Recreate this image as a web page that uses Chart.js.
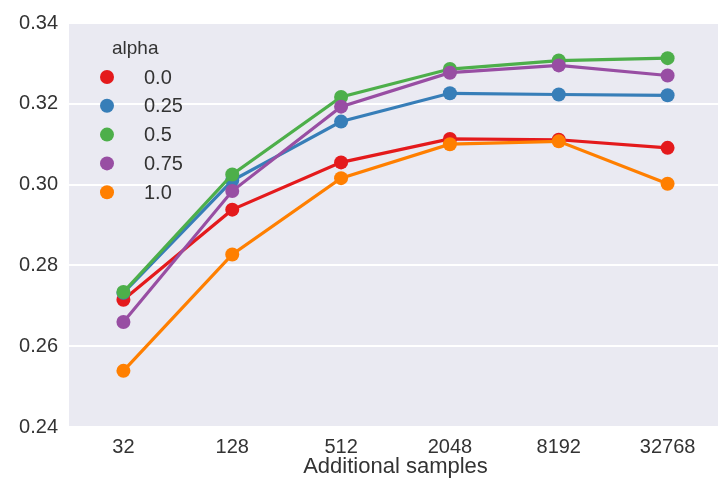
<!DOCTYPE html>
<html>
<head>
<meta charset="utf-8">
<script src="https://cdn.jsdelivr.net/npm/chart.js@4"></script>
<style>
  html, body { margin: 0; padding: 0; background: #ffffff; overflow: hidden; }
  /* the panel runs a few pixels past the right edge of the window */
  #wrap { width: 722px; height: 482px; }
</style>
</head>
<body>
<div id="wrap"><canvas id="chart" width="722" height="482"></canvas></div>
<script>
const samples = ["32", "128", "512", "2048", "8192", "32768"];
const alphaLabels = ["0.0", "0.25", "0.5", "0.75", "1.0"];
const colors = ["#e41a1c", "#377eb8", "#4daf4a", "#984ea3", "#ff7f00"];

const alpha00 = [0.2715, 0.2938, 0.3055, 0.3113, 0.3111, 0.3091];
const alpha025 = [0.2732, 0.3010, 0.3156, 0.3226, 0.3223, 0.3221];
const alpha05 = [0.2734, 0.3025, 0.3217, 0.3286, 0.3307, 0.3313];
const alpha075 = [0.2660, 0.2984, 0.3193, 0.3277, 0.3295, 0.3270];
const alpha10 = [0.2539, 0.2827, 0.3016, 0.3100, 0.3107, 0.3002];

const yTicks = [0.24, 0.26, 0.28, 0.30, 0.32, 0.34];

const seriesValues = [alpha00, alpha025, alpha05, alpha075, alpha10];
const FONT = "'Liberation Sans', Arial, sans-serif";
const TEXT = "#333333";

const datasets = seriesValues.map((vals, i) => ({
  label: alphaLabels[i],
  data: vals,
  borderColor: colors[i],
  backgroundColor: colors[i],
  pointBackgroundColor: colors[i],
  pointBorderColor: colors[i],
  pointRadius: 7,
  pointBorderWidth: 0,
  borderWidth: 3.2,
  tension: 0,
  order: seriesValues.length - i   // later hue levels drawn on top
}));

// grey panel behind the plot
const panelBg = {
  id: "panelBg",
  beforeDraw(chart) {
    const { ctx, chartArea: a } = chart;
    ctx.save();
    ctx.fillStyle = "#eaeaf2";
    ctx.fillRect(a.left, a.top, a.right - a.left, a.bottom - a.top);
    ctx.restore();
  }
};

// legend box in the upper-left corner of the panel
const hueLegend = {
  id: "hueLegend",
  afterDraw(chart) {
    const { ctx, chartArea: a } = chart;
    ctx.save();
    ctx.font = "19px " + FONT;
    ctx.fillStyle = TEXT;
    ctx.textBaseline = "middle";
    ctx.textAlign = "left";
    ctx.fillText("alpha", a.left + 43, 49);
    chart.data.datasets.forEach((ds, i) => {
      const y = 77 + i * 28.8;
      ctx.beginPath();
      ctx.fillStyle = ds.borderColor;
      ctx.arc(a.left + 38, y, 7, 0, Math.PI * 2);
      ctx.fill();
      ctx.fillStyle = TEXT;
      ctx.font = "20px " + FONT;
      ctx.fillText(ds.label, a.left + 75, y + 1);
    });
    ctx.restore();
  }
};

new Chart(document.getElementById("chart"), {
  type: "line",
  data: { labels: samples, datasets: datasets },
  options: {
    responsive: false,
    animation: false,
    layout: { autoPadding: false, padding: { top: 22, right: 0, bottom: 0, left: 0 } },
    plugins: {
      legend: { display: false },
      tooltip: { enabled: false }
    },
    scales: {
      x: {
        offset: true,
        grid: { display: false, drawTicks: false },
        border: { display: false },
        ticks: { color: TEXT, font: { family: FONT, size: 20 }, padding: 8 },
        title: {
          display: true,
          text: "Additional samples",
          color: TEXT,
          font: { family: FONT, size: 22 },
          padding: { top: 0, bottom: 2 }
        },
        afterFit(scale) { scale.height = 55; }
      },
      y: {
        min: 0.24,
        max: 0.34,
        afterBuildTicks(scale) { scale.ticks = yTicks.map(v => ({ value: v })); },
        grid: { color: "#ffffff", lineWidth: 2, drawTicks: false },
        border: { display: false },
        ticks: {
          color: TEXT,
          font: { family: FONT, size: 20 },
          padding: 11,
          callback: v => v.toFixed(2)
        },
        afterFit(scale) { scale.width = 69; }
      }
    }
  },
  plugins: [panelBg, hueLegend]
});
</script>
</body>
</html>
